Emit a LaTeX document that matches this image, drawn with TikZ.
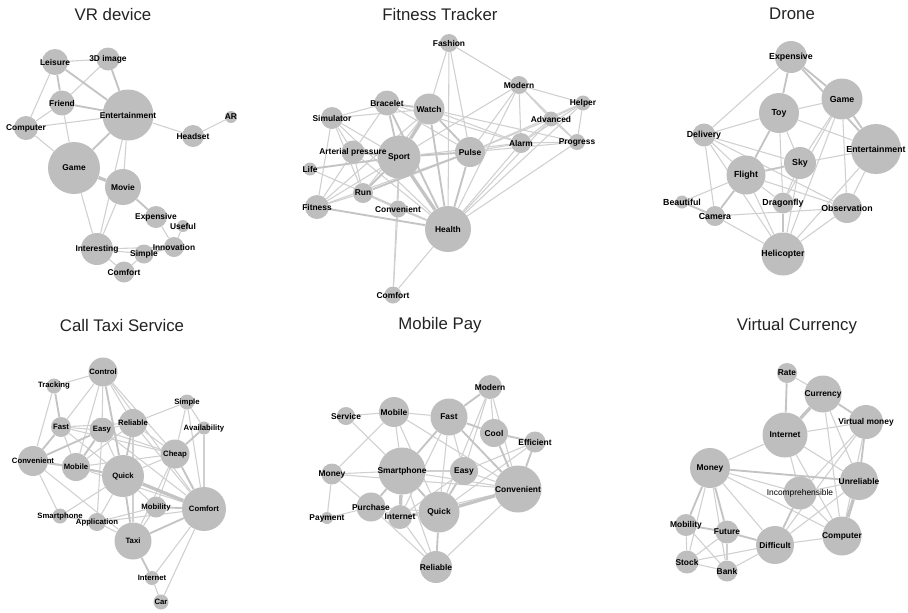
\documentclass[tikz,border=0pt]{standalone}
\usepackage{fontspec}
\setmainfont{Liberation Sans}
\definecolor{ng}{RGB}{190,190,190}
\definecolor{eg}{RGB}{208,208,208}
\definecolor{egb}{RGB}{196,196,196}
\definecolor{tc}{RGB}{35,35,35}
\pgfdeclarelayer{bg}\pgfdeclarelayer{fg}\pgfsetlayers{bg,main,fg}
\tikzset{
 nd/.style={circle,fill=ng,inner sep=0pt,minimum size=#1*0.75pt},
 lbl/.style={font=\bfseries\fontsize{6.3}{7}\selectfont,text=black,inner sep=0pt},
 ttl/.style={font=\fontsize{12.6}{14}\selectfont,text=tc,inner sep=0pt},
 ea/.style={draw=eg,line width=0.8pt},
 eb/.style={draw=egb,line width=1.4pt},
 ec/.style={draw=egb,line width=2.5pt},
}
\newcommand{\gn}[5]{\node[nd=#4] (#1) at (#2,#3) {};%
 \begin{pgfonlayer}{fg}\node[lbl] (#1L) at (#1.center) {#5};\end{pgfonlayer}}
\newcommand{\edg}[2]{\begin{pgfonlayer}{bg}\foreach \a/\b in {#2} \draw[#1] (\a) -- (\b);\end{pgfonlayer}}
\begin{document}
\begin{tikzpicture}[x=0.75pt,y=-0.75pt]
\begin{pgfonlayer}{bg}\fill[white] (0,0) rectangle (908,612);\end{pgfonlayer}
\useasboundingbox (0,0) rectangle (908,612);
% titles
\node[ttl] (T1) at (113,14) {VR device};
\node[ttl] (T2) at (440,14) {Fitness Tracker};
\node[ttl] (T3) at (792,14) {Drone};
\node[ttl] (T4) at (122,325) {Call Taxi Service};
\node[ttl] (T5) at (440,325) {Mobile Pay};
\node[ttl] (T6) at (797,326) {Virtual Currency};
% ---------------- VR device
\gn{vLei}{55}{62}{26}{Leisure}
\gn{vThr}{108}{59}{23}{3D image}
\gn{vFri}{62}{103}{25}{Friend}
\gn{vEnt}{128}{115}{51}{Entertainment}
\gn{vCom}{26}{128}{24}{Computer}
\gn{vAR}{231}{117}{12}{AR}
\gn{vHea}{193}{136}{22}{Headset}
\gn{vGam}{74}{168}{52}{Game}
\gn{vMov}{123}{187}{36}{Movie}
\gn{vExp}{156}{217}{22}{Expensive}
\gn{vUse}{183}{226}{12}{Useful}
\gn{vInn}{174}{247}{20}{Innovation}
\gn{vInt}{97}{249}{32}{Interesting}
\gn{vSim}{144}{254}{19}{Simple}
\gn{vCmf}{124}{272}{21}{Comfort}
\edg{ea}{vLei/vThr, vLei/vCom, vThr/vFri, vFri/vCom, vFri/vGam, vCom/vEnt, vCom/vGam, vEnt/vHea, vHea/vAR, vEnt/vMov, vEnt/vInt, vMov/vInt, vGam/vInt, vExp/vInn, vUse/vInn, vInt/vSim, vInt/vCmf, vSim/vCmf, vInt/vInn}
\edg{eb}{vLei/vFri, vLei/vEnt, vThr/vEnt, vFri/vEnt, vEnt/vGam, vMov/vExp, vSim/vInn}
\edg{ec}{vGam/vMov}
% ---------------- Fitness Tracker
\gn{fFas}{449}{43}{18}{Fashion}
\gn{fMod}{519}{85}{18}{Modern}
\gn{fHel}{583}{103}{15}{Helper}
\gn{fBra}{387}{103}{25}{Bracelet}
\gn{fWat}{429}{109}{31}{Watch}
\gn{fSim}{332}{118}{22}{Simulator}
\gn{fAdv}{551}{119}{15}{Advanced}
\gn{fArt}{353}{152}{23}{Arterial pressure}
\gn{fSpo}{399}{157}{43}{Sport}
\gn{fPul}{470}{152}{30}{Pulse}
\gn{fAla}{521}{143}{20}{Alarm}
\gn{fPro}{577}{142}{16}{Progress}
\gn{fLif}{310}{169}{13}{Life}
\gn{fRun}{363}{193}{20}{Run}
\gn{fFit}{317}{207}{24}{Fitness}
\gn{fCon}{398}{209}{17}{Convenient}
\gn{fHea}{448}{229}{46}{Health}
\gn{fCmf}{393}{295}{17}{Comfort}
\edg{ea}{fSpo/fSim, fSpo/fFit, fSpo/fCon, fSpo/fAla, fSpo/fMod, fWat/fFas, fWat/fAla, fWat/fPro, fWat/fRun, fWat/fFit, fWat/fSim, fBra/fSim, fBra/fArt, fBra/fPul, fBra/fAla, fSim/fArt, fSim/fFit, fSim/fRun, fSim/fHea, fArt/fRun, fArt/fFit, fArt/fHea, fLif/fHea, fRun/fFit, fRun/fHea, fRun/fCon, fFit/fPul, fCon/fHea, fCon/fCmf, fHea/fFas, fHea/fMod, fHea/fAla, fHea/fAdv, fHea/fPro, fHea/fHel, fHea/fCmf, fPul/fMod, fPul/fAla, fPul/fAdv, fPul/fHel, fPul/fFas, fPul/fPro, fMod/fFas, fMod/fHel, fMod/fAdv, fMod/fAla, fMod/fPro, fAdv/fHel, fAdv/fAla, fAdv/fPro, fHel/fPro, fHel/fAla, fAla/fPro, fSpo/fCmf}
\edg{eb}{fSpo/fBra, fSpo/fPul, fSpo/fLif, fSpo/fRun, fWat/fBra, fWat/fHea, fPul/fHea, fRun/fPul, fFit/fHea, fWat/fPul, fSpo/fArt, fBra/fHea}
\edg{ec}{fSpo/fHea, fSpo/fWat}
% ---------------- Drone
\begin{scope}[lbl/.append style={font=\bfseries\fontsize{6.6}{7}\selectfont}]
\gn{dExp}{791}{57}{32}{Expensive}
\gn{dGam}{842}{99}{41}{Game}
\gn{dToy}{779}{113}{40}{Toy}
\gn{dDel}{704}{135}{23}{Delivery}
\gn{dEnt}{876}{149}{50}{Entertainment}
\gn{dSky}{800}{163}{32}{Sky}
\gn{dFli}{746}{175}{39}{Flight}
\gn{dBea}{682}{202}{13}{Beautiful}
\gn{dDra}{783}{203}{21}{Dragonfly}
\gn{dCam}{715}{216}{20}{Camera}
\gn{dObs}{847}{208}{30}{Observation}
\gn{dHel}{783}{254}{43}{Helicopter}
\end{scope}
\edg{ea}{dExp/dDel, dGam/dToy, dGam/dSky, dGam/dDra, dGam/dObs, dGam/dHel, dToy/dDel, dToy/dEnt, dToy/dSky, dToy/dDra, dDel/dFli, dDel/dSky, dDel/dCam, dDel/dObs, dDel/dHel, dEnt/dSky, dEnt/dObs, dEnt/dHel, dSky/dDra, dSky/dHel, dFli/dBea, dFli/dDra, dFli/dObs, dFli/dHel, dCam/dObs, dCam/dHel, dObs/dHel}
\edg{eb}{dExp/dGam, dExp/dEnt, dGam/dEnt, dSky/dFli, dFli/dCam, dBea/dCam, dDra/dHel, dToy/dFli, dExp/dToy}
% ---------------- Call Taxi Service
\begin{scope}[lbl/.append style={font=\bfseries\fontsize{5.8}{7}\selectfont}]
\gn{tCtl}{103}{372}{29}{Control}
\gn{tTra}{54}{386}{15}{Tracking}
\gn{tSim}{187}{402}{15}{Simple}
\gn{tFas}{61}{427}{20}{Fast}
\gn{tEas}{102}{430}{25}{Easy}
\gn{tRel}{133}{423}{28}{Reliable}
\gn{tAva}{204}{428}{13}{Availability}
\gn{tChe}{175}{454}{29}{Cheap}
\gn{tCnv}{33}{461}{30}{Convenient}
\gn{tMob}{76}{467}{28}{Mobile}
\gn{tQui}{123}{476}{42}{Quick}
\gn{tMby}{156}{507}{21}{Mobility}
\gn{tCmf}{204}{509}{44}{Comfort}
\gn{tSma}{60}{516}{15}{Smartphone}
\gn{tApp}{97}{522}{18}{Application}
\gn{tTax}{133}{541}{37}{Taxi}
\gn{tInt}{152}{578}{14}{Internet}
\gn{tCar}{161}{602}{15}{Car}
\end{scope}
\edg{ea}{tCtl/tTra, tCtl/tFas, tCtl/tEas, tCtl/tRel, tCtl/tMob, tCtl/tChe, tCtl/tCmf, tTra/tCnv, tFas/tMob, tFas/tEas, tFas/tQui, tFas/tChe, tFas/tRel, tEas/tQui, tEas/tRel, tEas/tChe, tEas/tCmf, tRel/tSim, tRel/tChe, tRel/tCmf, tRel/tMob, tRel/tTax, tSim/tAva, tSim/tChe, tSim/tCmf, tAva/tCmf, tChe/tQui, tChe/tMby, tChe/tTax, tChe/tMob, tCnv/tQui, tCnv/tSma, tCnv/tTax, tMob/tCmf, tQui/tMby, tQui/tSma, tQui/tApp, tMby/tTax, tMby/tApp, tCmf/tApp, tCmf/tInt, tCmf/tCar, tSma/tApp, tApp/tTax, tInt/tCar, tEas/tApp}
\edg{eb}{tFas/tCnv, tTra/tFas, tEas/tCnv, tEas/tMob, tCnv/tMob, tMob/tQui, tQui/tTax, tChe/tCmf, tCmf/tTax, tTax/tInt, tAva/tChe, tCtl/tQui, tRel/tQui, tMby/tCmf}
\edg{ec}{tQui/tCmf}
% ---------------- Mobile Pay
\gn{mMod}{490}{387}{24}{Modern}
\gn{mMob}{394}{412}{30}{Mobile}
\gn{mSer}{346}{416}{18}{Service}
\gn{mFas}{449}{417}{37}{Fast}
\gn{mCoo}{494}{433}{28}{Cool}
\gn{mEff}{535}{442}{21}{Efficient}
\gn{mMon}{332}{474}{21}{Money}
\gn{mSma}{402}{471}{47}{Smartphone}
\gn{mEas}{464}{471}{28}{Easy}
\gn{mCnv}{518}{489}{47}{Convenient}
\gn{mPur}{371}{507}{29}{Purchase}
\gn{mPay}{327}{518}{12}{Payment}
\gn{mInt}{400}{517}{24}{Internet}
\gn{mQui}{439}{512}{41}{Quick}
\gn{mRel}{436}{567}{32}{Reliable}
\edg{ea}{mSer/mMob, mSer/mSma, mMob/mFas, mMob/mSma, mMob/mMon, mMob/mCnv, mMob/mQui, mFas/mQui, mFas/mEas, mFas/mInt, mMod/mCoo, mMod/mEas, mMod/mCnv, mMod/mQui, mEff/mQui, mEff/mEas, mMon/mSma, mMon/mPur, mMon/mPay, mMon/mCnv, mSma/mEas, mSma/mCnv, mSma/mRel, mEas/mCnv, mEas/mInt, mCnv/mRel, mCnv/mInt, mPur/mPay, mPur/mInt, mPur/mQui, mPur/mRel, mInt/mRel}
\edg{eb}{mFas/mMod, mFas/mSma, mFas/mCnv, mCoo/mEff, mCoo/mCnv, mEff/mCnv, mSma/mPur, mSma/mQui, mEas/mQui, mQui/mRel, mInt/mQui, mFas/mCoo}
\edg{ec}{mSma/mInt, mCnv/mQui}
% ---------------- Virtual Currency
\gn{cRat}{787}{373}{20}{Rate}
\gn{cCur}{823}{394}{37}{Currency}
\gn{cVir}{866}{422}{34}{Virtual money}
\gn{cInt}{785}{435}{45}{Internet}
\gn{cMon}{710}{468}{40}{Money}
\gn{cUnr}{859}{481}{38}{Unreliable}
\gn{cInc}{800}{493}{33}{\mdseries Incomprehensible}
\gn{cMby}{686}{525}{22}{Mobility}
\gn{cFut}{727}{532}{23}{Future}
\gn{cCom}{842}{536}{39}{Computer}
\gn{cDif}{775}{545}{38}{Difficult}
\gn{cSto}{687}{562}{23}{Stock}
\gn{cBan}{727}{571}{21}{Bank}
\edg{ea}{cRat/cCur, cCur/cUnr, cCur/cCom, cVir/cInt, cVir/cInc, cVir/cDif, cVir/cCom, cInt/cMon, cInt/cInc, cInt/cUnr, cInt/cCom, cMon/cInc, cMon/cCom, cMon/cDif, cMon/cSto, cMon/cBan, cUnr/cInc, cUnr/cDif, cInc/cCom, cDif/cCom, cDif/cSto, cDif/cBan, cMby/cSto, cMby/cBan, cFut/cSto, cFut/cBan, cSto/cBan}
\edg{eb}{cRat/cInt, cCur/cVir, cVir/cUnr, cMon/cUnr, cMon/cMby, cMon/cFut, cInc/cDif, cDif/cFut, cMby/cFut}
\edg{ec}{cCur/cInt, cUnr/cCom}
\end{tikzpicture}
\end{document}
